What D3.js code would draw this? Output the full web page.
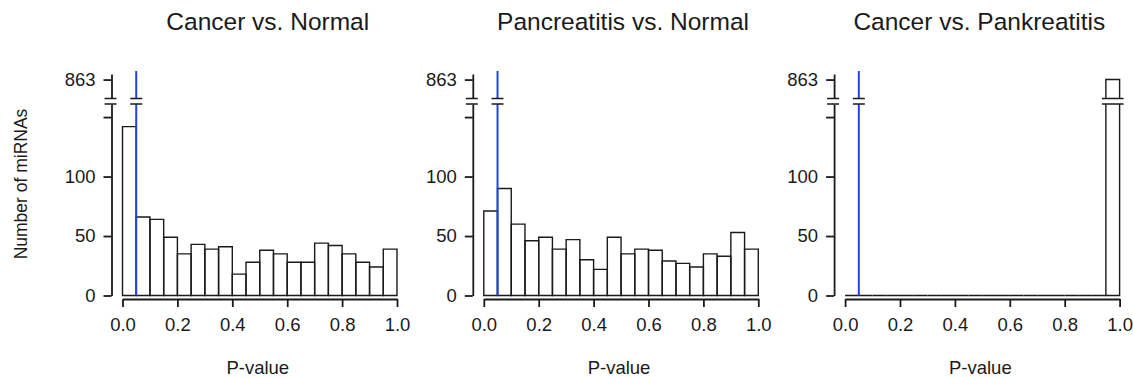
<!DOCTYPE html>
<html>
<head>
<meta charset="utf-8">
<script src="https://cdn.jsdelivr.net/npm/d3@7"></script>
<style>
  body { margin: 0; background: #fff; }
  svg text { font-family: "Liberation Sans", Arial, Helvetica, sans-serif; fill: #1a1a1a; }
</style>
</head>
<body>
<svg id="chart" width="1133" height="378"></svg>
<script>
// histogram bins (start of each 0.05 wide bin)
const binStarts = [0, 0.05, 0.1, 0.15, 0.2, 0.25, 0.3, 0.35, 0.4, 0.45,
                   0.5, 0.55, 0.6, 0.65, 0.7, 0.75, 0.8, 0.85, 0.9, 0.95];
const binWidth = 0.05;

// counts
const cancerNormal = [142, 66, 64, 49, 35, 43, 39, 41, 18, 28, 38, 35, 28, 28, 44, 42, 35, 28, 24, 39];
const pancreatitisNormal = [71, 90, 60, 46, 49, 39, 47, 30, 22, 49, 35, 39, 38, 29, 27, 24, 35, 33, 53, 39];
const cancerPankreatitis = [0, 0, 0, 0, 0, 0, 0, 0, 0, 0, 0, 0, 0, 0, 0, 0, 0, 0, 0, 863];

const titles = ['Cancer vs. Normal', 'Pancreatitis vs. Normal', 'Cancer vs. Pankreatitis'];
const xTicks = [0, 0.2, 0.4, 0.6, 0.8, 1.0];
const yTicksLower = [0, 50, 100, 150];
const yLabelsLower = [0, 50, 100];
const yTicksUpper = [863];
const cutoff = 0.05;

// broken y axis: lower part 0..161, upper part 846..868
const lowerDomain = [0, 161];
const upperDomain = [846, 868];

const panels = [
  { title: titles[0], values: cancerNormal, titleShift: 8 },
  { title: titles[1], values: pancreatitisNormal, titleShift: 2 },
  { title: titles[2], values: cancerPankreatitis, titleShift: -3 }
];

const ink = '#1a1a1a';
const blue = '#2244dd';
const plotWidth = 274.5;
const yBase = 295.5, yLowTop = 104, yHighBottom = 98.5, yHighTop = 74;

const svg = d3.select('#chart');

function breakMark(g, xa, xb) {
  g.append('rect')
    .attr('x', xa).attr('y', yHighBottom)
    .attr('width', xb - xa).attr('height', yLowTop - yHighBottom)
    .attr('fill', '#fff');
  [yHighBottom, yLowTop].forEach(yy => {
    g.append('line')
      .attr('x1', xa).attr('x2', xb)
      .attr('y1', yy).attr('y2', yy)
      .attr('stroke', ink).attr('stroke-width', 1.5);
  });
}

panels.forEach((p, i) => {
  const x0 = 122.5 + i * 361.3;
  const x = d3.scaleLinear().domain([0, 1]).range([x0, x0 + plotWidth]);
  const yLow = d3.scaleLinear().domain(lowerDomain).range([yBase, yLowTop]);
  const yHigh = d3.scaleLinear().domain(upperDomain).range([yHighBottom, yHighTop]);
  const axisX = x0 - 11;

  const g = svg.append('g');

  // bars
  p.values.forEach((v, j) => {
    const xa = x(binStarts[j]), xb = x(binStarts[j] + binWidth);
    if (v <= lowerDomain[1]) {
      g.append('path')
        .attr('d', `M${xa},${yBase}V${yLow(v)}H${xb}V${yBase}Z`)
        .attr('fill', 'none').attr('stroke', ink).attr('stroke-width', 1.4);
    } else {
      g.append('path')
        .attr('d', `M${xa},${yLowTop}V${yBase}H${xb}V${yLowTop}`)
        .attr('fill', 'none').attr('stroke', ink).attr('stroke-width', 1.4);
      g.append('path')
        .attr('d', `M${xa},${yHighBottom}V${yHigh(v)}H${xb}V${yHighBottom}`)
        .attr('fill', 'none').attr('stroke', ink).attr('stroke-width', 1.4);
      breakMark(g, xa - 4, xb + 4);
    }
  });

  // cutoff line
  const xc = x(cutoff);
  g.append('line')
    .attr('x1', xc).attr('x2', xc).attr('y1', 71).attr('y2', yBase)
    .attr('stroke', blue).attr('stroke-width', 2);
  breakMark(g, xc - 6, xc + 6);

  // y axis, lower and upper segment
  const yAxisLow = g.append('g')
    .attr('transform', `translate(${axisX},0)`)
    .call(d3.axisLeft(yLow)
      .tickValues(yTicksLower)
      .tickFormat(d => yLabelsLower.includes(d) ? d : '')
      .tickSize(8).tickPadding(8).tickSizeOuter(0));
  const yAxisHigh = g.append('g')
    .attr('transform', `translate(${axisX},0)`)
    .call(d3.axisLeft(yHigh)
      .tickValues(yTicksUpper)
      .tickSize(8).tickPadding(8).tickSizeOuter(0));
  breakMark(g, axisX - 7, axisX + 5);

  // x axis
  const xAxis = g.append('g')
    .attr('transform', 'translate(0,299)')
    .call(d3.axisBottom(x)
      .tickValues(xTicks)
      .tickFormat(d3.format('.1f'))
      .tickSize(8).tickPadding(11).tickSizeOuter(0));

  [yAxisLow, yAxisHigh, xAxis].forEach(a => {
    a.attr('font-size', 18.5).attr('font-family', null);
    a.selectAll('path, line').attr('stroke', ink).attr('stroke-width', 1.8);
  });

  // title and x label
  g.append('text')
    .attr('x', x0 + plotWidth / 2 + p.titleShift).attr('y', 30)
    .attr('text-anchor', 'middle').attr('font-size', 24.5)
    .text(p.title);
  g.append('text')
    .attr('x', x0 + plotWidth / 2 - 2).attr('y', 374)
    .attr('text-anchor', 'middle').attr('font-size', 18.5)
    .text('P-value');
});

svg.append('text')
  .attr('transform', 'translate(27,184) rotate(-90)')
  .attr('text-anchor', 'middle').attr('font-size', 17.5)
  .text('Number of miRNAs');
</script>
</body>
</html>
